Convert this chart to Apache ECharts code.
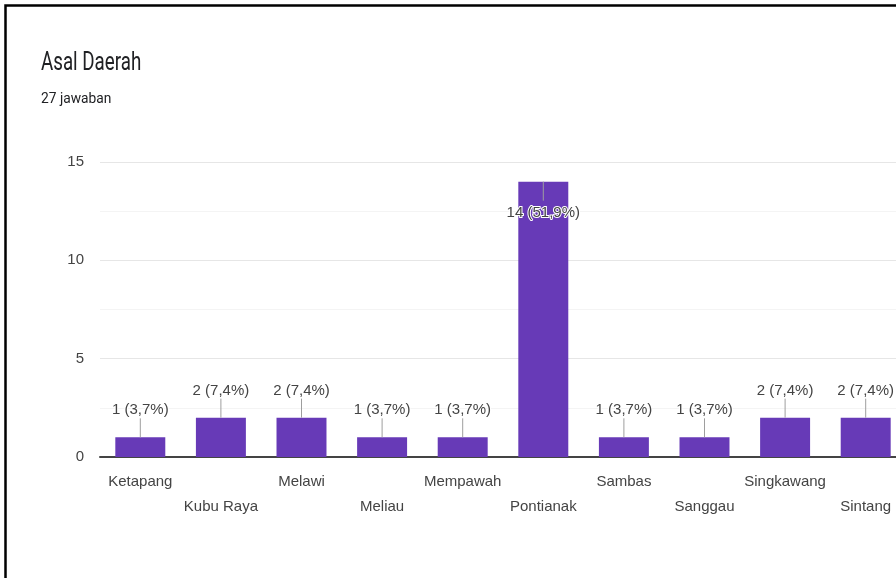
<!DOCTYPE html>
<html>
<head>
<meta charset="utf-8">
<title>Asal Daerah</title>
<script src="https://cdn.jsdelivr.net/npm/echarts@6/dist/echarts.min.js"></script>
<style>
  html, body { margin: 0; padding: 0; background: #fff; overflow: hidden; }
  /* card is wider than the window, it gets cut at the right like the screenshot */
  #chart { width: 1000px; height: 578px; }
</style>
</head>
<body>
<div id="chart"></div>
<script>
// data read from the form summary
const categories = ['Ketapang', 'Kubu Raya', 'Melawi', 'Meliau', 'Mempawah',
  'Pontianak', 'Sambas', 'Sanggau', 'Singkawang', 'Sintang']
const counts = [1, 2, 2, 1, 1, 14, 1, 1, 2, 2]
const totalAnswers = 27
const yTicks = [0, 5, 10, 15]

const barColor = '#673ab7'
const textColor = '#444444'
const stemColor = '#9e9e9e'
const labelFont = '15px "Liberation Sans", Arial, sans-serif'

// "1 (3,7%)"
function annotationText(v) {
  const pct = (v / totalAnswers * 100).toFixed(1).replace('.', ',')
  return v + ' (' + pct + '%)'
}

const chart = echarts.init(document.getElementById('chart'), null, { renderer: 'canvas' })

chart.setOption({
  backgroundColor: '#ffffff',
  animation: false,
  textStyle: { fontFamily: '"Liberation Sans", Arial, sans-serif' },
  graphic: [
    {
      // card border (cut off at right and bottom)
      type: 'rect',
      shape: { x: 5.5, y: 5.5, width: 1200, height: 1200 },
      style: { fill: null, stroke: '#000000', lineWidth: 2.5 },
      silent: true
    },
    {
      type: 'text',
      x: 41,
      y: 64,
      scaleX: 0.75,
      style: {
        text: 'Asal Daerah',
        x: 0, y: 0,
        fill: '#202124',
        font: '25px Roboto, sans-serif',
        align: 'left',
        verticalAlign: 'middle'
      }
    },
    {
      type: 'text',
      x: 41,
      y: 99,
      scaleX: 0.95,
      style: {
        text: '27 jawaban',
        x: 0, y: 0,
        fill: '#202124',
        font: '14.5px Roboto, sans-serif',
        align: 'left',
        verticalAlign: 'middle'
      }
    }
  ],
  grid: {
    left: 100,
    top: 162,
    bottom: 121,
    right: 94,
    containLabel: false
  },
  xAxis: {
    type: 'category',
    data: categories,
    axisTick: { show: false },
    axisLine: {
      lineStyle: { color: '#444444', width: 2 }
    },
    axisLabel: {
      interval: 0,
      color: textColor,
      fontSize: 15,
      lineHeight: 25,
      margin: 12,
      // alternate rows like the original
      formatter: function (value, idx) {
        return idx % 2 ? '\n' + value : value
      }
    }
  },
  yAxis: {
    type: 'value',
    min: yTicks[0],
    max: yTicks[yTicks.length - 1],
    interval: 5,
    axisLine: { show: false },
    axisTick: { show: false },
    axisLabel: {
      color: textColor,
      fontSize: 15,
      margin: 16
    },
    splitLine: {
      lineStyle: { color: '#e6e6e6', width: 1 }
    },
    minorTick: { show: false, splitNumber: 2 },
    minorSplitLine: {
      show: true,
      lineStyle: { color: '#f4f4f4', width: 1 }
    }
  },
  series: [
    {
      type: 'bar',
      data: counts,
      barWidth: '62%',
      itemStyle: { color: barColor },
      z: 2
    },
    {
      // annotation with a short stem, flipped inside the bar when no room above
      type: 'custom',
      z: 5,
      data: counts.map(function (v, i) { return [i, v] }),
      renderItem: function (params, api) {
        const i = api.value(0)
        const v = api.value(1)
        const pt = api.coord([i, v])
        const flip = pt[1] - 40 < params.coordSys.y
        const dir = flip ? 1 : -1
        const stemEnd = pt[1] + dir * 19
        const textY = pt[1] + dir * (flip ? 31 : 27)
        return {
          type: 'group',
          children: [
            {
              type: 'line',
              shape: { x1: pt[0], y1: pt[1], x2: pt[0], y2: stemEnd },
              style: { stroke: stemColor, lineWidth: 1 }
            },
            {
              type: 'text',
              style: {
                text: annotationText(v),
                x: pt[0],
                y: textY,
                fill: textColor,
                stroke: '#ffffff',
                lineWidth: 2,
                font: labelFont,
                align: 'center',
                verticalAlign: 'middle'
              }
            }
          ]
        }
      }
    }
  ]
})
</script>
</body>
</html>
